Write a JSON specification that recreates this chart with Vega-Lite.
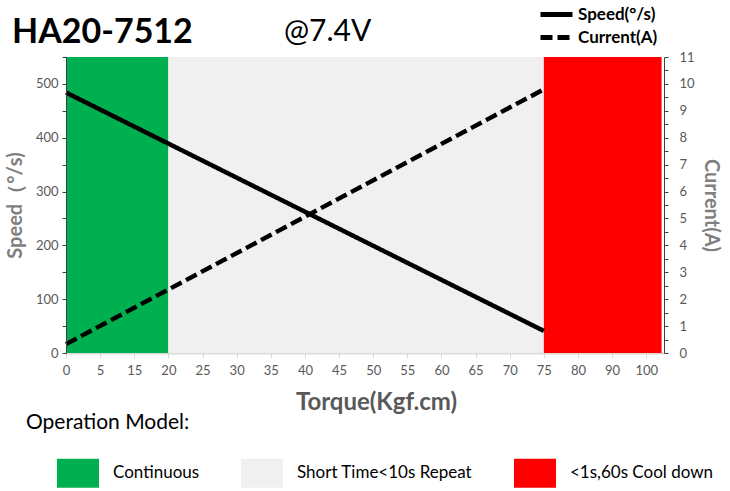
{
  "$schema": "https://vega.github.io/schema/vega-lite/v6.json",
  "width": 598,
  "height": 296,
  "autosize": {"type": "none"},
  "padding": {"left": 66, "top": 57, "right": 66, "bottom": 138},
  "background": "white",
  "config": {"font": "Lato", "view": {"stroke": null}, "axis": {"grid": false, "labelOverlap": false}},
  "title": {"text": "HA20-7512", "anchor": "start", "frame": "group", "fontSize": 34, "fontWeight": "bold", "color": "black", "font": "Lato", "dx": -54, "offset": 0, "dy": 48},
  "datasets": {
    "zones": [
      {"zone": "Continuous", "start": 0, "end": 3},
      {"zone": "Short Time<10s Repeat", "start": 3, "end": 14},
      {"zone": "<1s,60s Cool down", "start": 14, "end": 17.45}
    ],
    "speed": [
      {"series": "Speed(°/s)", "idx": 0, "torque": "0", "speed": 484},
      {"series": "Speed(°/s)", "idx": 14, "torque": "75", "speed": 41}
    ],
    "current": [
      {"series": "Current(A)", "idx": 0, "torque": "0", "current": 0.33},
      {"series": "Current(A)", "idx": 14, "torque": "75", "current": 9.8}
    ]
  },
  "layer": [
    {
      "data": {"name": "zones"},
      "mark": {"type": "rect"},
      "encoding": {
        "x": {
          "field": "start", "type": "quantitative",
          "scale": {"domain": [0, 17.52], "nice": false, "zero": false},
          "axis": {
            "values": [0,1,2,3,4,5,6,7,8,9,10,11,12,13,14,15,16,17], "tickCount": 18,
            "labelExpr": "['0','5','15','20','25','30','35','40','45','50','55','60','65','70','75','80','90','100'][datum.value]",
            "title": "Torque(Kgf.cm)", "titleFontSize": 24, "titleFontWeight": "bold", "titleColor": "#595959",
            "titleX": 310, "titlePadding": 13,
            "labelColor": "#595959", "labelFontSize": 13, "labelPadding": 6, "labelFlush": false, "labelOverlap": false,
            "domainColor": "#D9D9D9", "domainWidth": 2, "tickColor": "#D9D9D9", "tickSize": 5, "grid": false
          }
        },
        "x2": {"field": "end"},
        "color": {
          "field": "zone", "type": "nominal",
          "scale": {"domain": ["Continuous", "Short Time<10s Repeat", "<1s,60s Cool down"], "range": ["#00B050", "#F0F0F0", "#FF0000"]},
          "legend": {
            "orient": "none", "legendX": -40, "legendY": 355, "direction": "horizontal", "columns": 3,
            "title": "Operation Model:", "titleFontSize": 21, "titleFontWeight": "normal", "titleColor": "black", "titlePadding": 19,
            "labelFontSize": 17, "labelColor": "black", "labelOffset": 45, "columnPadding": 10, "labelLimit": 400,
            "symbolType": "M0.476,-0.69H2.476V0.69H0.476Z", "symbolSize": 1764, "symbolStrokeWidth": 0, "symbolOpacity": 1,
            "encode": {"symbols": {"update": {"fill": {"signal": "datum.value === 'Continuous' ? '#00B050' : datum.value === '<1s,60s Cool down' ? '#FF0000' : '#EEECE1'"}}}}
          }
        }
      }
    },
    {
      "data": {"name": "speed"},
      "mark": {"type": "line", "strokeWidth": 4.5, "color": "black"},
      "encoding": {
        "x": {
          "field": "idx", "type": "quantitative", "scale": {"domain": [0, 17.52], "nice": false, "zero": false},
          "axis": {
            "values": [0,1,2,3,4,5,6,7,8,9,10,11,12,13,14,15,16,17], "tickCount": 18,
            "labelExpr": "['0','5','15','20','25','30','35','40','45','50','55','60','65','70','75','80','90','100'][datum.value]",
            "title": "Torque(Kgf.cm)", "titleFontSize": 24, "titleFontWeight": "bold", "titleColor": "#595959",
            "titleX": 310, "titlePadding": 13,
            "labelColor": "#595959", "labelFontSize": 13, "labelPadding": 6, "labelFlush": false, "labelOverlap": false,
            "domainColor": "#D9D9D9", "domainWidth": 2, "tickColor": "#D9D9D9", "tickSize": 5, "grid": false
          }
        },
        "y": {
          "field": "speed", "type": "quantitative",
          "scale": {"domain": [0, 550], "nice": false},
          "axis": {
            "orient": "left", "values": [0,50,100,150,200,250,300,350,400,450,500,550],
            "labelExpr": "datum.value % 100 === 0 ? datum.label : ''",
            "title": "Speed（°/s)", "titleFontSize": 20, "titleFontWeight": "bold", "titleColor": "#7F7F7F", "titlePadding": 10,
            "labelColor": "#595959", "labelFontSize": 13, "labelPadding": 4, "labelOverlap": false,
            "domainColor": "#404040", "tickColor": "#404040", "tickSize": 4, "zindex": 1
          }
        },
        "strokeDash": {
          "field": "series", "type": "nominal",
          "scale": {"domain": ["Speed(°/s)", "Current(A)"], "range": [[1, 0], [12, 5]]},
          "legend": {
            "orient": "none", "legendX": 218, "legendY": -55,
            "title": "@7.4V", "titleOrient": "left", "titleFontSize": 30, "titleFontWeight": "normal", "titleColor": "black", "titlePadding": 166,
            "titleBaseline": "line-top", "titleLineHeight": 14,
            "labelFontSize": 17, "labelFontWeight": "bold", "labelColor": "black", "labelOffset": 15,
            "symbolType": "M-1,0H2.2", "symbolSize": 400, "symbolStrokeWidth": 5, "symbolStrokeColor": "black", "symbolFillColor": "transparent", "rowPadding": 0
          }
        }
      }
    },
    {
      "data": {"name": "current"},
      "mark": {"type": "line", "strokeWidth": 4.5, "color": "black"},
      "encoding": {
        "x": {
          "field": "idx", "type": "quantitative", "scale": {"domain": [0, 17.52], "nice": false, "zero": false},
          "axis": {
            "values": [0,1,2,3,4,5,6,7,8,9,10,11,12,13,14,15,16,17], "tickCount": 18,
            "labelExpr": "['0','5','15','20','25','30','35','40','45','50','55','60','65','70','75','80','90','100'][datum.value]",
            "title": "Torque(Kgf.cm)", "titleFontSize": 24, "titleFontWeight": "bold", "titleColor": "#595959",
            "titleX": 310, "titlePadding": 13,
            "labelColor": "#595959", "labelFontSize": 13, "labelPadding": 6, "labelFlush": false, "labelOverlap": false,
            "domainColor": "#D9D9D9", "domainWidth": 2, "tickColor": "#D9D9D9", "tickSize": 5, "grid": false
          }
        },
        "y": {
          "field": "current", "type": "quantitative",
          "scale": {"domain": [0, 11], "nice": false},
          "axis": {
            "orient": "right", "values": [0,0.5,1,1.5,2,2.5,3,3.5,4,4.5,5,5.5,6,6.5,7,7.5,8,8.5,9,9.5,10,10.5,11],
            "labelExpr": "datum.value % 1 === 0 ? format(datum.value, 'd') : ''",
            "title": "Current(A)", "titleFontSize": 20, "titleFontWeight": "bold", "titleColor": "#7F7F7F", "titlePadding": 6,
            "labelColor": "#595959", "labelFontSize": 13, "labelPadding": 11, "labelOverlap": false,
            "domainColor": "#404040", "tickColor": "#404040", "tickSize": 4, "zindex": 1
          }
        },
        "strokeDash": {"field": "series", "type": "nominal", "scale": {"domain": ["Speed(°/s)", "Current(A)"], "range": [[1, 0], [12, 5]]}}
      }
    }
  ],
  "resolve": {"scale": {"y": "independent"}}
}
